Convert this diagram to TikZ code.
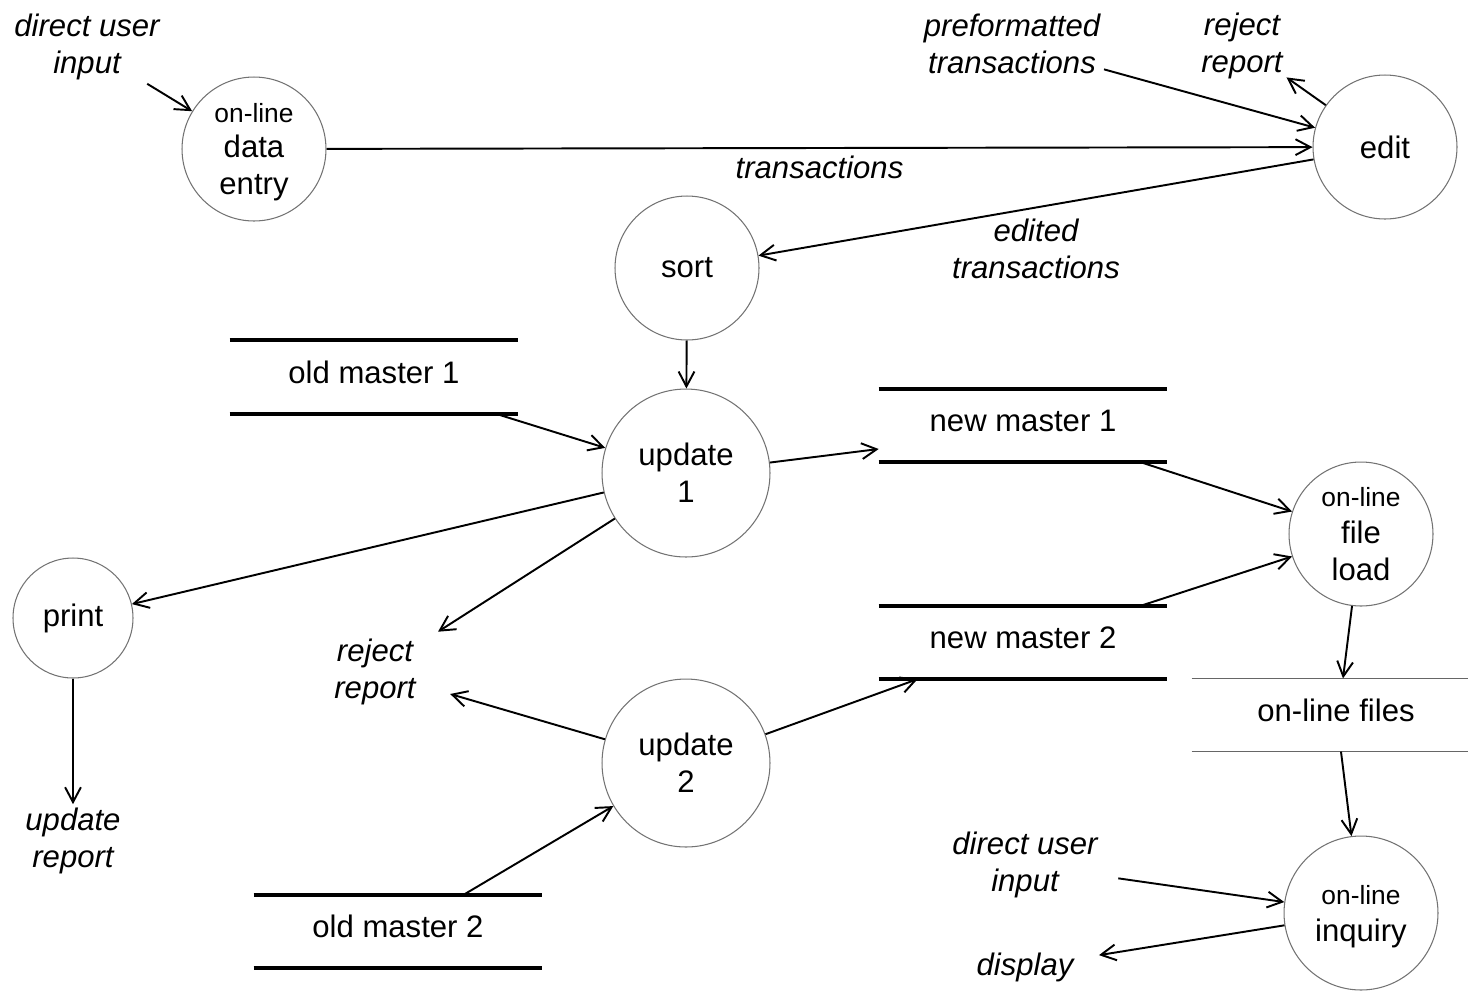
\documentclass[tikz,border=0pt]{standalone}
\usepackage{fontspec}
\setmainfont{Liberation Sans}
\usetikzlibrary{arrows.meta}

\newcommand{\smallol}{{\fontsize{15}{18}\selectfont on-line}}

\begin{document}
\begin{tikzpicture}[x=0.02cm,y=-0.02cm,
    font=\fontsize{17.7}{21}\selectfont,
    proc/.style={circle,draw=black!55,line width=0.6pt,inner sep=0pt,minimum size=2.88cm,align=center},
    lbl/.style={font=\fontsize{17.7}{21}\selectfont\itshape,align=center,inner sep=2pt},
    store/.style={minimum width=5.76cm,minimum height=1.45cm,inner sep=0pt,text depth=0.2cm},
    storeline/.style={line width=2.2pt},
    flow/.style={line width=1.1pt,-{Straight Barb[length=8.5pt,width=9pt]}}]
\useasboundingbox (0,0) rectangle (1468,992);

% processes
\node[proc,text depth=0pt] (entry) at (254,149) {\smallol\\[-1.5pt]data\\entry};
\node[proc] (edit) at (1385,147) {edit};
\node[proc] (sort) at (687,268) {sort};
\node[proc,minimum size=3.36cm] (upd1) at (686,473) {update\\1};
\node[proc,minimum size=3.36cm] (upd2) at (686,763) {update\\2};
\node[proc,minimum size=2.4cm] (print) at (73,618) {print};
\node[proc] (load) at (1361,534) {\smallol\\file\\load};
\node[proc,minimum size=3.08cm,text depth=0pt] (inq) at (1361,913) {\smallol\\inquiry};

% stores
\node[store] (om1) at (374,377) {old master 1};
\node[store] (nm1) at (1023,425.5) {new master 1};
\node[store] (nm2) at (1023,642.5) {new master 2};
\node[store] (om2) at (398,931.5) {old master 2};
\node[store,minimum width=5.52cm] (olf) at (1330,715) {\hspace{0.24cm}on-line files};
\foreach \s in {om1,nm1,nm2,om2}
  \draw[storeline] (\s.north west) -- (\s.north east) (\s.south west) -- (\s.south east);
\draw[black!60,line width=0.8pt] (olf.north west) -- (olf.north east) (olf.south west) -- (olf.south east);

% sources and sinks
\node[lbl] (dui1) at (87,47) {direct user\\input};
\node[lbl] (pre) at (1012,44) {preformatted\\transactions};
\node[lbl] (rej1) at (1242,46) {reject\\report};
\node[lbl] (rej2) at (375,672) {reject\\report};
\node[lbl] (urep) at (73,841) {update\\report};
\node[lbl] (dui2) at (1025,865) {direct user\\input};
\node[lbl] (disp) at (1025,967) {display};

% flows
\draw[flow] (dui1) -- (entry);
\draw[flow] (entry) -- node[lbl,below,yshift=-0.06cm] {transactions} (edit);
\draw[flow] (pre) -- (edit);
\draw[flow] (edit) -- (rej1);
\draw[flow] (edit) -- node[lbl,below,yshift=-0.14cm] {edited\\transactions} (sort);
\draw[flow] (sort) -- (upd1);
\draw[flow] ([xshift=-0.46cm]om1.south east) -- (upd1);
\draw[flow] (upd1) -- ([yshift=-0.47cm]nm1.west);
\draw[flow] (upd1) -- (print);
\draw[flow,shorten >=0.44cm] (upd1) -- (rej2);
\draw[flow,shorten >=0.64cm] (upd2) -- (rej2);
\draw[flow] ([xshift=-1.58cm]om2.north east) -- (upd2);
\draw[flow] (upd2) -- ([xshift=0.78cm]nm2.south west);
\draw[flow] ([xshift=-0.54cm]nm1.south east) -- (load);
\draw[flow] ([xshift=-0.54cm]nm2.north east) -- (load);
\draw[flow] (load) -- ([xshift=0.26cm]olf.north);
\draw[flow] ([xshift=0.22cm]olf.south) -- (inq);
\draw[flow] (print) -- (urep);
\draw[flow,shorten <=0.34cm] (dui2) -- (inq);
\draw[flow,shorten >=0.44cm] (inq) -- (disp);

\end{tikzpicture}
\end{document}
